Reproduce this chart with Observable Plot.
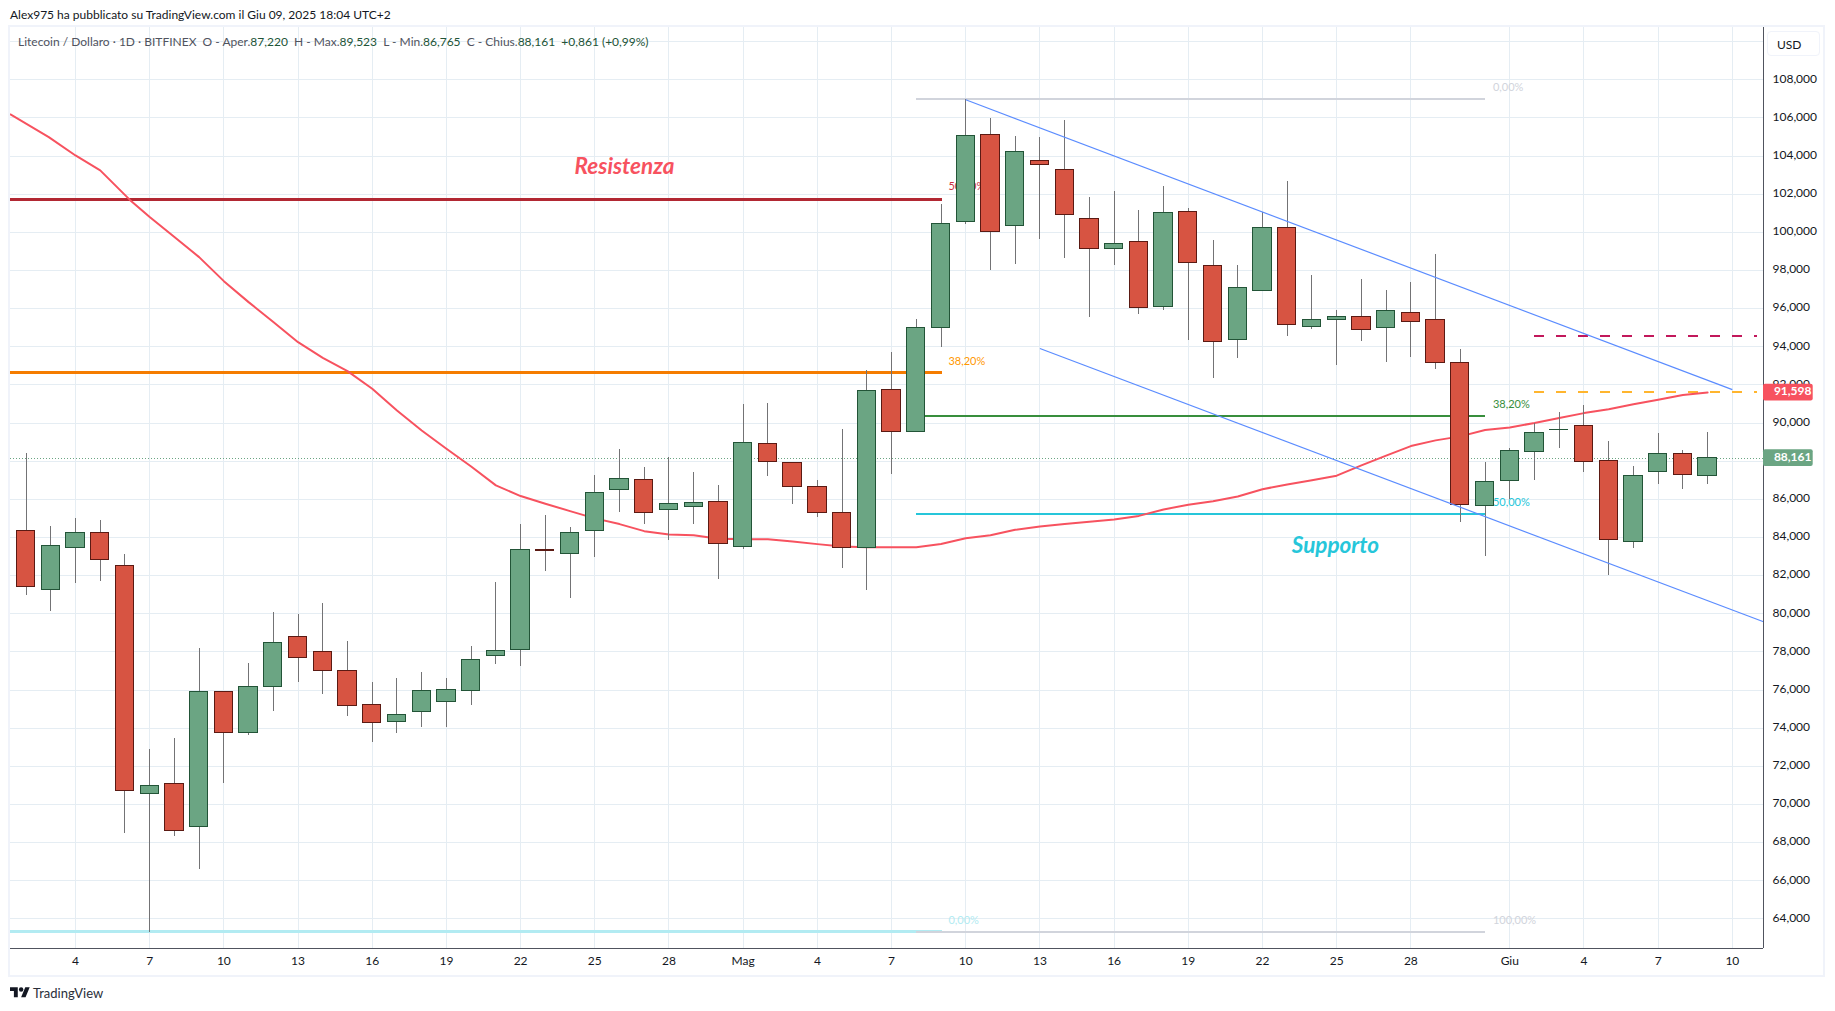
<!DOCTYPE html>
<html>
<head>
<meta charset="utf-8">
<script src="https://cdn.jsdelivr.net/npm/d3@7"></script>
<script src="https://cdn.jsdelivr.net/npm/@observablehq/plot@0.6"></script>
<style>
    html, body { margin: 0; background: #fff; overflow: hidden; font-family: Lato, sans-serif; color: #131722; }
    #top { height: 25px; line-height: 29px; padding-left: 10px; font-size: 12px; }
    #panel { position: relative; margin-left: 8px; width: 1813px; height: 948px; border: 2px solid #f0f3fa; }
    #panel svg { display: block; }
    #legend { position: absolute; left: 8px; top: 7px; font-size: 12px; color: #50535e; white-space: pre; }
    #legend b { font-weight: normal; color: #225437; }
    #usd { position: absolute; left: 1757px; top: 4px; width: 53px; height: 25px; line-height: 25px; border: 1px solid #f0f3fa; border-radius: 4px; box-sizing: border-box; padding-left: 9px; font-size: 12px; }
    #foot { display: flex; align-items: center; margin: 8px 0 0 10px; font-size: 13px; color: #2a2e39; }
    #foot svg { width: 20px; margin-right: 3px; }
</style>
</head>
<body>
<div id="top">Alex975 ha pubblicato su TradingView.com il Giu 09, 2025 18:04 UTC+2</div>
<div id="panel">
    <div id="chart"></div>
    <div id="legend">Litecoin / Dollaro · 1D · BITFINEX  O - Aper.<b>87,220</b>  H - Max.<b>89,523</b>  L - Min.<b>86,765</b>  C - Chius.<b>88,161</b>  <b>+0,861 (+0,99%)</b></div>
    <div id="usd">USD</div>
</div>
<div id="foot"><svg viewBox="0 0 36 28"><path d="M14 22H7V11H0V4h14v18zM28 22h-8l7.5-18h8L28 22z" fill="#131722"/><circle cx="20" cy="8" r="4" fill="#131722"/></svg>TradingView</div>
<script>
// days counted from 1 April, so 31 = 1 May and 62 = 1 June
var days = d3.range(2, 71);
var open = [84.35, 81.26, 83.46, 84.24, 82.51, 70.56, 71.08, 68.83, 75.91, 73.76, 76.17, 78.79, 78.0, 77.01, 75.23, 74.33, 74.86, 75.38, 75.96, 77.79, 78.11, 83.32, 83.14, 84.35, 86.5, 87.02, 85.45, 85.59, 85.87, 83.51, 88.91, 87.91, 86.65, 85.29, 83.46, 91.74, 89.54, 94.99, 100.55, 105.11, 100.34, 103.75, 103.28, 100.71, 99.13, 99.5, 96.09, 101.07, 98.24, 94.36, 96.93, 100.24, 95.05, 95.42, 95.57, 94.99, 95.78, 95.42, 93.16, 85.66, 86.97, 88.5, 89.63, 89.86, 88.02, 83.78, 87.45, 88.39, 87.22];
var close = [81.41, 83.56, 84.24, 82.83, 70.72, 70.98, 68.62, 75.91, 73.76, 76.17, 78.48, 77.69, 77.01, 75.17, 74.28, 74.7, 75.96, 76.01, 77.58, 78.06, 83.35, 83.28, 84.24, 86.34, 87.06, 85.29, 85.77, 85.82, 83.66, 88.96, 87.96, 86.65, 85.29, 83.46, 91.69, 89.54, 94.99, 100.45, 105.06, 100.03, 104.22, 103.54, 100.92, 99.13, 99.4, 96.04, 101.02, 98.4, 94.26, 97.09, 100.24, 95.15, 95.42, 95.57, 94.89, 95.89, 95.31, 93.16, 85.72, 86.92, 88.55, 89.49, 89.65, 87.97, 83.88, 87.2, 88.39, 87.29, 88.161];
var high = [88.39, 84.58, 85.0, 84.89, 83.11, 72.88, 73.46, 78.18, 75.91, 77.39, 80.07, 79.96, 80.54, 78.55, 76.4, 76.61, 76.92, 76.61, 78.28, 81.64, 84.68, 85.15, 84.51, 87.25, 88.6, 87.65, 88.18, 87.41, 86.72, 90.97, 91.03, 87.91, 86.99, 89.66, 92.75, 93.7, 95.43, 101.46, 106.95, 105.97, 105.02, 104.97, 105.86, 101.83, 102.14, 101.14, 102.4, 101.25, 99.57, 98.26, 101.02, 102.69, 97.71, 95.89, 97.53, 96.96, 97.38, 98.82, 93.84, 87.92, 88.65, 89.96, 90.56, 90.93, 89.04, 87.73, 89.46, 88.55, 89.523];
var low = [80.96, 80.14, 81.6, 81.71, 68.5, 63.3, 68.34, 66.61, 71.1, 73.62, 74.89, 76.41, 75.78, 74.63, 73.27, 73.74, 74.04, 74.04, 75.21, 77.36, 77.25, 82.23, 80.82, 82.97, 85.33, 84.7, 83.86, 84.69, 81.81, 83.39, 87.21, 85.74, 85.06, 82.39, 81.22, 87.3, 89.54, 93.98, 100.43, 98.02, 98.33, 99.64, 98.64, 95.55, 98.28, 95.71, 95.92, 94.34, 92.35, 93.4, 96.93, 94.56, 94.91, 93.04, 94.3, 93.15, 93.41, 92.83, 84.81, 83.02, 86.0, 86.96, 88.64, 87.38, 81.98, 83.44, 86.8, 86.54, 86.765];

var maDays = [1.37, 2.92, 4, 5, 6.2, 7, 8, 9, 10, 11, 12, 13, 14, 15, 16, 17, 18, 19, 20, 21, 22, 23, 24, 25, 26, 27, 28, 29, 30, 31, 32, 33, 34, 35, 36, 37, 38, 39, 40, 41, 42, 43, 44, 45, 46, 47, 48, 49, 50, 51, 52, 53, 54, 55, 56, 57, 58, 59, 60, 61, 62, 63, 64, 65, 66, 67, 68, 69, 70];
var maValues = [106.18, 104.99, 104.03, 103.25, 101.7, 100.8, 99.75, 98.7, 97.44, 96.34, 95.3, 94.24, 93.42, 92.72, 91.8, 90.66, 89.61, 88.65, 87.72, 86.73, 86.17, 85.77, 85.38, 85.0, 84.7, 84.33, 84.16, 84.12, 83.93, 83.9, 83.91, 83.79, 83.65, 83.53, 83.49, 83.49, 83.49, 83.66, 83.96, 84.12, 84.4, 84.57, 84.71, 84.82, 84.94, 85.13, 85.47, 85.71, 85.9, 86.15, 86.53, 86.78, 87.0, 87.24, 87.78, 88.29, 88.79, 89.09, 89.3, 89.63, 89.77, 90.0, 90.26, 90.52, 90.72, 90.98, 91.22, 91.47, 91.598];

var dayTicks = [4, 7, 10, 13, 16, 19, 22, 25, 28, 34, 37, 40, 43, 46, 49, 52, 55, 58, 65, 68, 71];
var dayLabels = ["4", "7", "10", "13", "16", "19", "22", "25", "28", "4", "7", "10", "13", "16", "19", "22", "25", "28", "4", "7", "10"];
var monthTicks = [31, 62];
var monthLabels = ["Mag", "Giu"];
var priceTicks = d3.range(64, 109, 2);
var gridPrices = d3.range(64, 111, 2);

var lastPrice = 88.161;
var tagPrices = [91.598, 88.161];
var tagLabels = ["91,598", "88,161"];
var tagColors = ["#f7525f", "#6ba583"];

var xMin = 1.372, xMax = 72.26;
var candles = days.map(function (d, i) {
    return { day: d, open: open[i], close: close[i], high: high[i], low: low[i], up: close[i] >= open[i] };
});
var ma = maDays.map(function (d, i) { return { day: d, value: maValues[i] }; });
var fmt = function (v) { return v.toFixed(3).replace(".", ","); };
var same = function (d) { return d; };

// one horizontal level of a drawing
function level(from, to, value, stroke, width, dash) {
    return Plot.ruleY([value], { x1: from, x2: to, stroke: stroke, strokeWidth: width, strokeDasharray: dash, shapeRendering: "crispEdges" });
}
function note(day, value, label, color) {
    return Plot.text([label], { x: day, y: value, text: same, fill: color, fontSize: 11, textAnchor: "start" });
}

var chart = Plot.plot({
    width: 1813,
    height: 948,
    marginLeft: 0,
    marginRight: 60,
    marginTop: 0,
    marginBottom: 26.7,
    style: { fontFamily: "Lato, sans-serif", background: "#fff", color: "#131722" },
    x: { type: "linear", domain: [xMin, xMax] },
    y: { domain: [62.43, 110.74] },
    marks: [
        Plot.ruleX(dayTicks.concat(monthTicks), { stroke: "#e5edf3", shapeRendering: "crispEdges" }),
        Plot.ruleY(gridPrices, { stroke: "#e5edf3", x1: xMin, x2: xMax, shapeRendering: "crispEdges" }),
        Plot.ruleY([lastPrice], { x1: xMin, x2: xMax, stroke: "#6ba583", strokeDasharray: "1,2", shapeRendering: "crispEdges" }),

        // support and resistance levels, fibonacci retracement
        level(xMin, 39.05, 101.71, "#b22833", 3),
        level(xMin, 39.05, 92.64, "#f57c00", 3),
        level(xMin, 39.05, 63.32, "#b2ebf2", 3),
        level(38, 61, 106.98, "#d1d4dc", 2),
        level(38, 61, 90.38, "#388e3c", 2),
        level(38, 61, 85.24, "#26c6da", 2),
        level(38, 61, 63.32, "#d1d4dc", 2),
        level(63, 72, 94.56, "#c2185b", 2, "10,12"),
        level(63, 72, 91.65, "#ffb52e", 2, "10,12"),
        note(39.3, 102.4, "50,00%", "#c9323f"),
        note(39.3, 93.23, "38,20%", "#ff9800"),
        note(39.3, 63.92, "0,00%", "#b2ebf2"),
        note(61.32, 107.6, "0,00%", "#d1d4dc"),
        note(61.32, 90.95, "38,20%", "#388e3c"),
        note(61.32, 85.84, "50,00%", "#26c6da"),
        note(61.32, 63.92, "100,00%", "#d1d4dc"),

        Plot.line(ma, { x: "day", y: "value", stroke: "#f7525f", strokeWidth: 2, curve: "linear" }),

        // candles
        Plot.ruleX(candles, { x: "day", y1: "low", y2: "high", stroke: "#737375", shapeRendering: "crispEdges" }),
        Plot.rect(candles, {
            x1: function (d) { return d.day - 0.37; },
            x2: function (d) { return d.day + 0.37; },
            y1: "open",
            y2: "close",
            fill: function (d) { return d.up ? "#6ba583" : "#d75442"; },
            stroke: function (d) { return d.up ? "#225437" : "#5b1a13"; },
            strokeWidth: 1,
            shapeRendering: "crispEdges"
        }),

        // falling channel
        Plot.link([0], { x1: 40, y1: 106.95, x2: 71, y2: 91.75, stroke: "#5b8cff", strokeWidth: 1.2 }),
        Plot.link([0], { x1: 43, y1: 93.91, x2: xMax, y2: 79.58, stroke: "#5b8cff", strokeWidth: 1.2 }),

        Plot.text(["Resistenza"], { x: 26.2, y: 103.42, text: same, fill: "#f7525f", fontSize: 22.5, fontWeight: 700, fontStyle: "italic" }),
        Plot.text(["Supporto"], { x: 54.95, y: 83.58, text: same, fill: "#26c6da", fontSize: 22.5, fontWeight: 700, fontStyle: "italic" }),

        // axes
        Plot.ruleX([xMax], { stroke: "#50535e", shapeRendering: "crispEdges" }),
        Plot.ruleY([62.43], { stroke: "#50535e", x1: xMin, x2: xMax, shapeRendering: "crispEdges" }),
        Plot.axisY({ anchor: "right", ticks: priceTicks, tickFormat: fmt, tickSize: 0, tickPadding: 9, fontSize: 12, dy: -1, label: null }),
        Plot.axisX({ anchor: "bottom", ticks: dayTicks.concat(monthTicks), tickFormat: function (d) { return d === 31 || d === 62 ? monthLabels[monthTicks.indexOf(d)] : dayLabels[dayTicks.indexOf(d)]; }, tickSize: 0, tickPadding: 8, fontSize: 12, label: null }),

        // price tags
        Plot.rect(tagPrices, { x1: xMax, x2: xMax + 2.01, y1: function (d) { return d - 0.44; }, y2: function (d) { return d + 0.44; }, fill: function (d, i) { return tagColors[i]; }, rx: 2 }),
        Plot.text(tagPrices, { x: xMax + 1.18, y: same, text: function (d, i) { return tagLabels[i]; }, fill: "#fff", fontSize: 12, fontWeight: 700, dy: -1 })
    ]
});
document.getElementById("chart").append(chart);
</script>
</body>
</html>
